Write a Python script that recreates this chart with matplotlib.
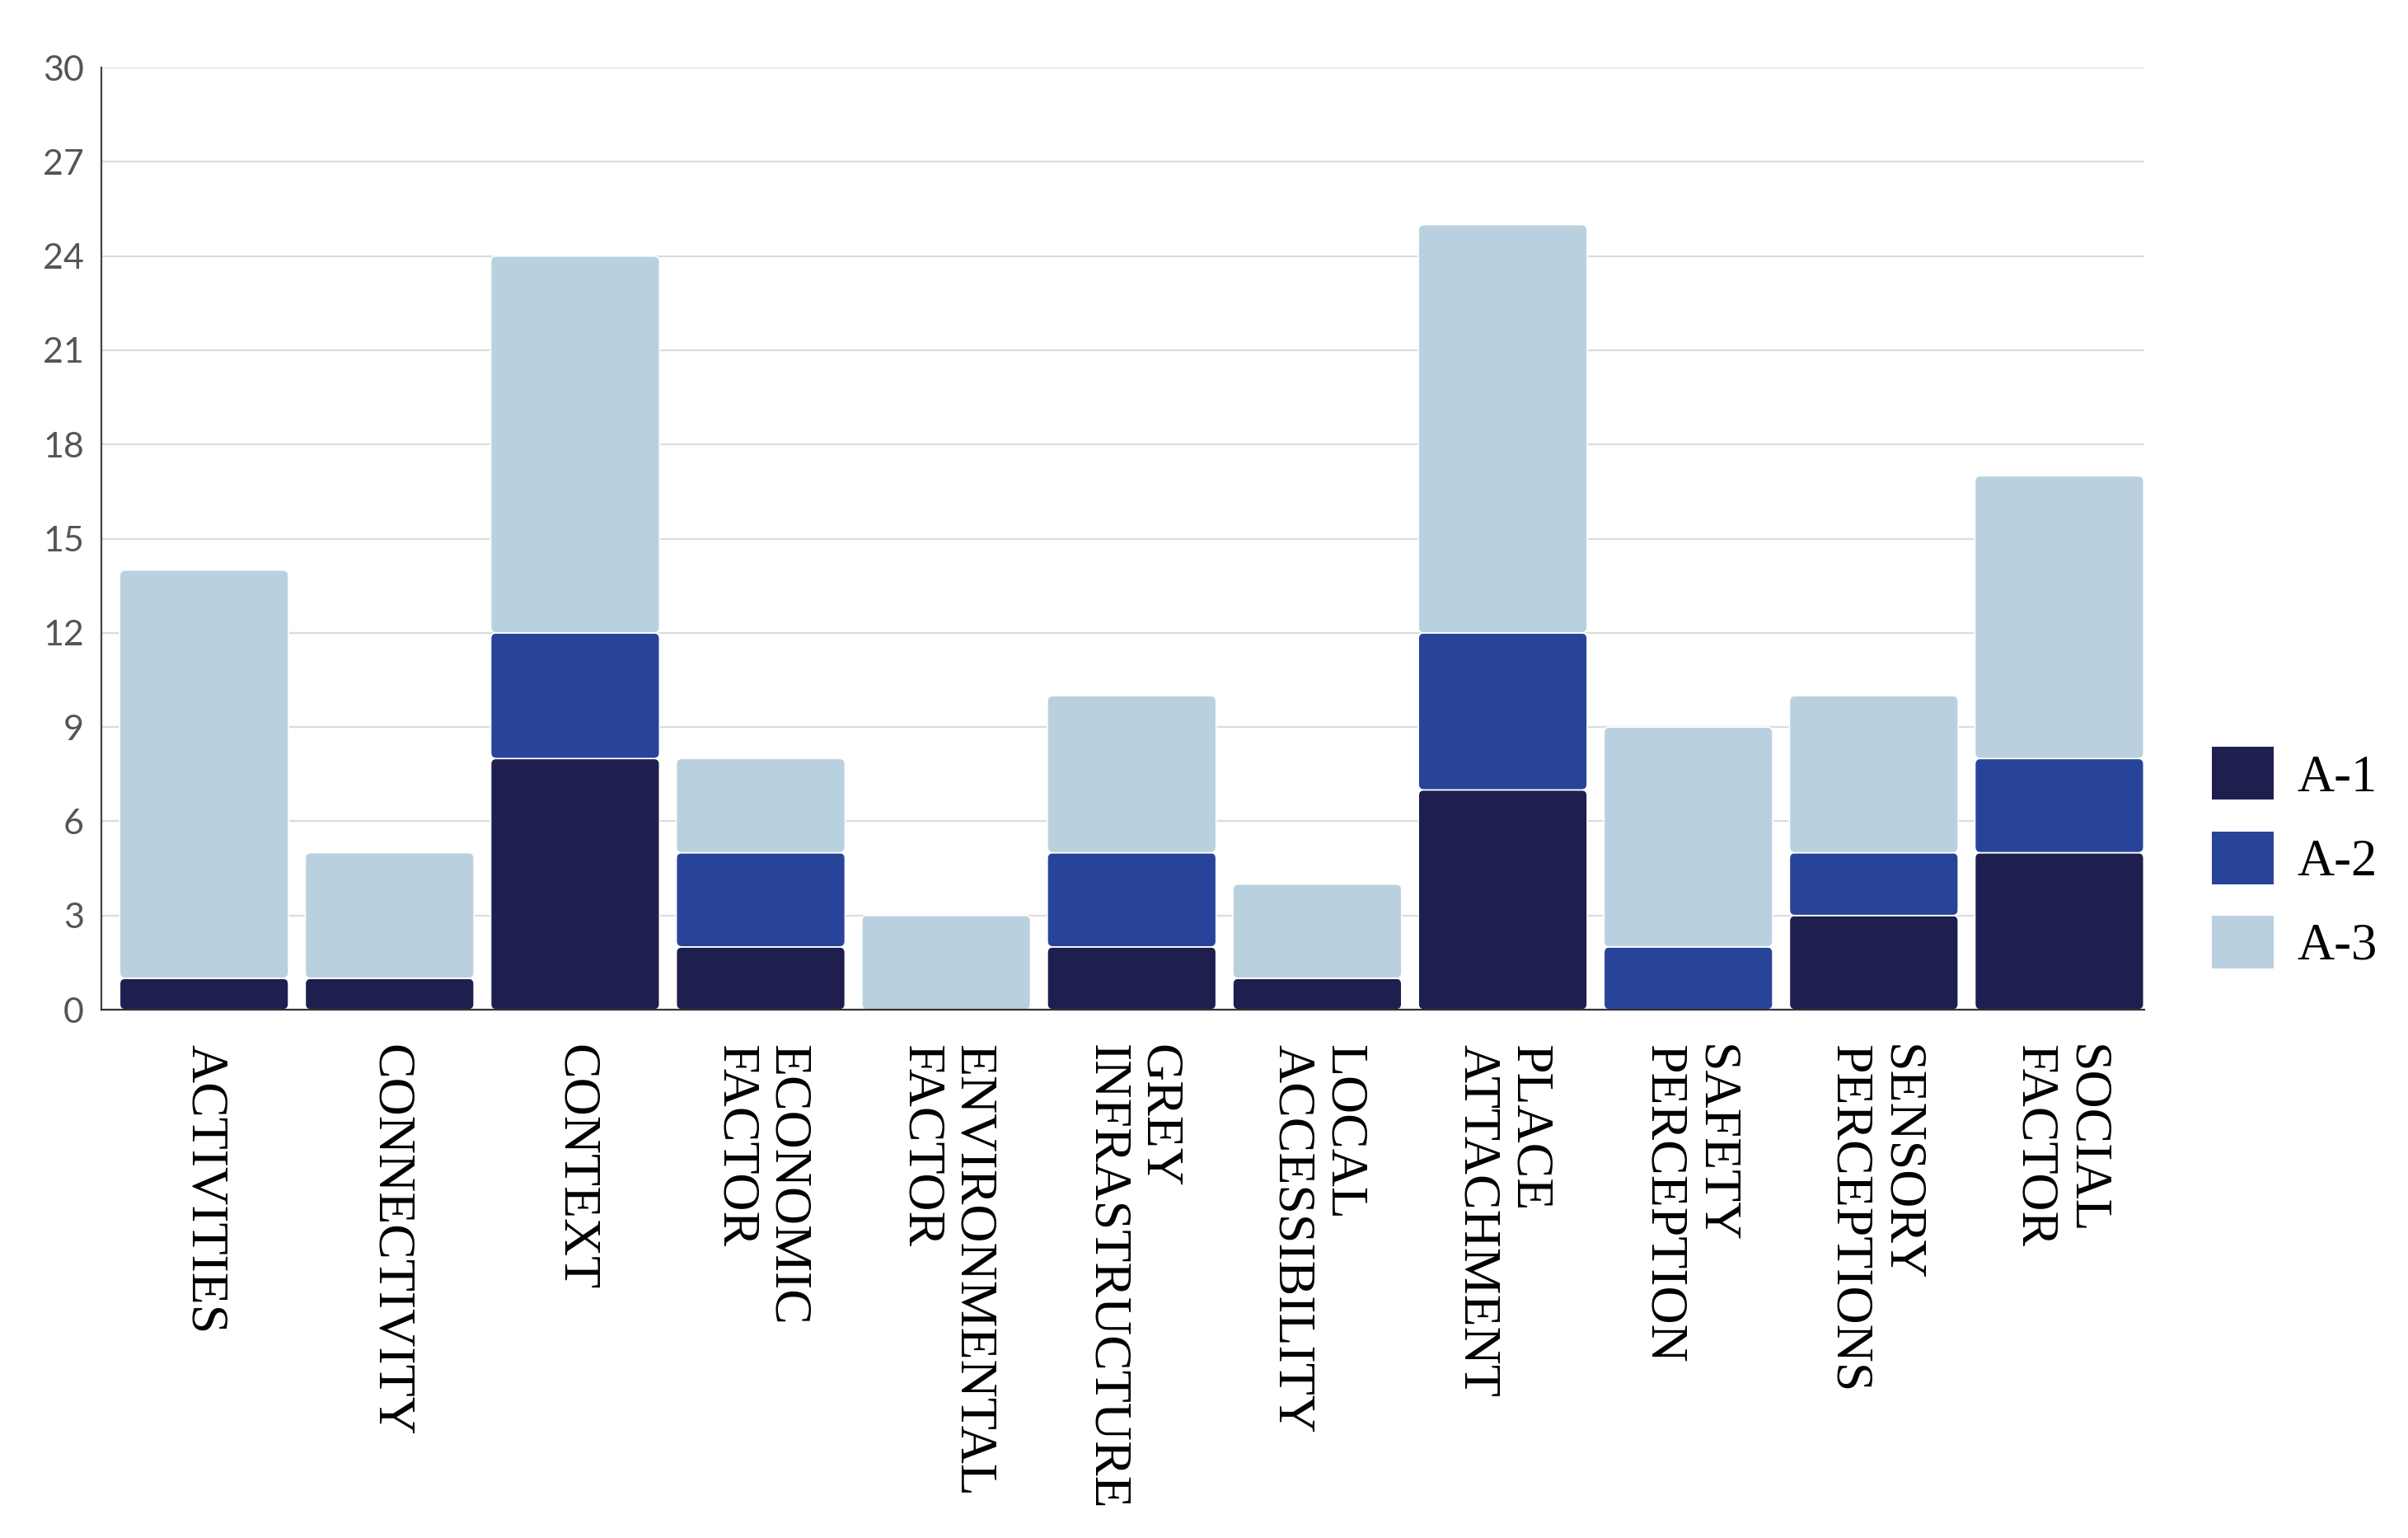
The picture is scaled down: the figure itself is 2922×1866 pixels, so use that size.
import matplotlib.pyplot as plt
from matplotlib.patches import FancyBboxPatch, Patch

categories = [
    "ACTIVITIES", "CONNECTIVITY", "CONTEXT", "ECONOMIC\nFACTOR",
    "ENVIRONMENTAL\nFACTOR", "GREY\nINFRASTRUCTURE", "LOCAL\nACCESSIBILITY",
    "PLACE\nATTACHMENT", "SAFETY\nPERCEPTION", "SENSORY\nPERCEPTIONS",
    "SOCIAL\nFACTOR",
]
a1 = [1, 1, 8, 2, 0, 2, 1, 7, 0, 3, 5]
a2 = [0, 0, 4, 3, 0, 3, 0, 5, 2, 2, 3]
a3 = [13, 4, 12, 3, 3, 5, 3, 13, 7, 5, 9]
series_names = ["A-1", "A-2", "A-3"]
colors = ["#1e1f4f", "#28449a", "#b9d1df"]
y_ticks = list(range(0, 31, 3))

fig = plt.figure(figsize=(29.22, 18.66), dpi=100)
ax = fig.add_axes([0.042, 0.3435, 0.8485, 0.6125])

width = 0.91
x = list(range(len(categories)))
bottoms = [0] * len(categories)
aspect = 120.4 / 20.4
for vals, col in zip([a1, a2, a3], colors):
    bars = ax.bar(x, vals, width, bottom=bottoms, color=col)
    for rect, v in zip(bars, vals):
        rect.set_visible(False)
        if v == 0:
            continue
        # redraw each segment with slightly rounded corners
        p = FancyBboxPatch((rect.get_x(), rect.get_y()), rect.get_width(), rect.get_height(),
                           boxstyle="round,pad=0,rounding_size=0.03",
                           mutation_aspect=aspect, facecolor=col,
                           edgecolor="white", linewidth=1.2, zorder=3)
        ax.add_patch(p)
    bottoms = [b + v for b, v in zip(bottoms, vals)]

ax.set_xlim(-0.555, 10.458)
ax.set_ylim(0, 30)
ax.set_yticks(y_ticks)
ax.set_yticklabels([str(t) for t in y_ticks], fontfamily="Lato", fontsize=31, color="#555555")
ax.set_xticks(x)
ax.set_xticklabels(categories, rotation=270, fontfamily="Liberation Serif", fontsize=46,
                   color="black", ha="center", va="top", multialignment="left",
                   linespacing=1.1)
ax.tick_params(axis="y", length=0, pad=15)
ax.tick_params(axis="x", length=0, pad=30)

ax.grid(axis="y", color="#dcdcdc", linewidth=1.6, zorder=0)
ax.set_axisbelow(True)
for s in ["top", "right"]:
    ax.spines[s].set_visible(False)
ax.spines["left"].set_color("#444444")
ax.spines["left"].set_linewidth(1.6)
ax.spines["bottom"].set_color("#333333")
ax.spines["bottom"].set_linewidth(1.6)
ax.spines["bottom"].set_zorder(4)

handles = [Patch(facecolor=c, edgecolor="none") for c in colors]
ax.legend(handles, series_names, loc="upper left", bbox_to_anchor=(0.908, 0.531),
          bbox_transform=fig.transFigure, frameon=False, borderpad=0,
          prop={"family": "Liberation Serif", "size": 45},
          handlelength=1.2, handleheight=1.2, labelspacing=0.56, handletextpad=0.45)

fig.savefig("out.png", dpi=100)
